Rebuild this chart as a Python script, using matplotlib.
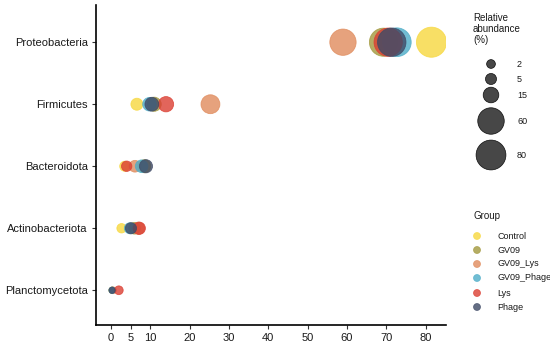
import numpy as np
import matplotlib.pyplot as plt

plt.rcParams['font.family'] = ['Liberation Sans', 'DejaVu Sans']

phyla = ["Planctomycetota", "Actinobacteriota", "Bacteroidota", "Firmicutes", "Proteobacteria"]
groups = ["Control", "GV09", "GV09_Lys", "GV09_Phage", "Lys", "Phage"]
colors = ["#F7D83F", "#A3993D", "#E08B5C", "#4EADC8", "#DB3E32", "#3F4A66"]

# relative abundance (%) per group, ordered like phyla
abundance = {
    "Control":    [0.3, 2.7, 3.5, 6.6, 81.5],
    "GV09":       [0.3, 6.0, 8.5, 11.0, 69.3],
    "GV09_Lys":   [0.5, 7.0, 6.1, 25.3, 59.0],
    "GV09_Phage": [0.3, 4.8, 7.8, 9.8, 72.7],
    "Lys":        [2.0, 7.2, 4.0, 14.0, 70.5],
    "Phage":      [0.3, 5.1, 8.9, 10.4, 71.4],
}
x_ticks = [0, 5, 10, 20, 30, 40, 50, 60, 70, 80]
size_breaks = [2, 5, 15, 60, 80]


def marker_area(v):
    # diameter in px grows with sqrt of abundance, converted to pt^2
    d_px = 4.8 + 2.8 * np.sqrt(np.asarray(v, dtype=float))
    return (d_px * 0.72) ** 2


fig = plt.figure(figsize=(5.5, 3.47), dpi=100)
ax = fig.add_axes([96 / 550, 22 / 347, (446 - 96) / 550, (325 - 5) / 347])

ypos = np.arange(1, len(phyla) + 1)
for g, c in zip(groups, colors):
    vals = abundance[g]
    ax.scatter(vals, ypos, s=marker_area(vals), color=c, alpha=0.8,
               edgecolors=c, linewidths=0.6, zorder=3)

ax.set_xlim(-3.8, 85.2)
ax.set_ylim(0.44, 5.6)
ax.set_yticks(ypos)
ax.set_yticklabels(phyla, fontsize=8, color="#1a1a1a")
ax.set_xticks(x_ticks)
ax.set_xticklabels([str(t) for t in x_ticks], fontsize=8, color="#1a1a1a")
ax.tick_params(length=3, width=0.8, color="#333333", pad=3)
for s in ["top", "right"]:
    ax.spines[s].set_visible(False)
for s in ["left", "bottom"]:
    ax.spines[s].set_linewidth(1.2)

# size legend
lax = fig.add_axes([0, 0, 1, 1])
lax.set_xlim(0, 550)
lax.set_ylim(347, 0)
lax.axis("off")
lax.text(473, 13, "Relative\nabundance\n(%)", fontsize=7, va="top", ha="left",
         linespacing=1.15, color="#1a1a1a")
size_y = [64, 79, 95, 121, 155]
lax.scatter([491] * len(size_breaks), size_y, s=marker_area(size_breaks),
            color="#333333", alpha=0.9, edgecolors="black", linewidths=0.5)
for b, y in zip(size_breaks, size_y):
    lax.text(517, y, str(b), fontsize=6.5, va="center", ha="left", color="#1a1a1a")

# group legend
lax.text(473, 216, "Group", fontsize=7, va="center", ha="left", color="#1a1a1a")
grp_y = [236, 250, 264, 278, 293, 307]
lax.scatter([477] * len(groups), grp_y, s=(7 * 0.72) ** 2, color=colors, alpha=0.8,
            edgecolors=colors, linewidths=0.5)
for g, y in zip(groups, grp_y):
    lax.text(497, y, g, fontsize=6.5, va="center", ha="left", color="#1a1a1a")

fig.savefig("out.png", dpi=100)
